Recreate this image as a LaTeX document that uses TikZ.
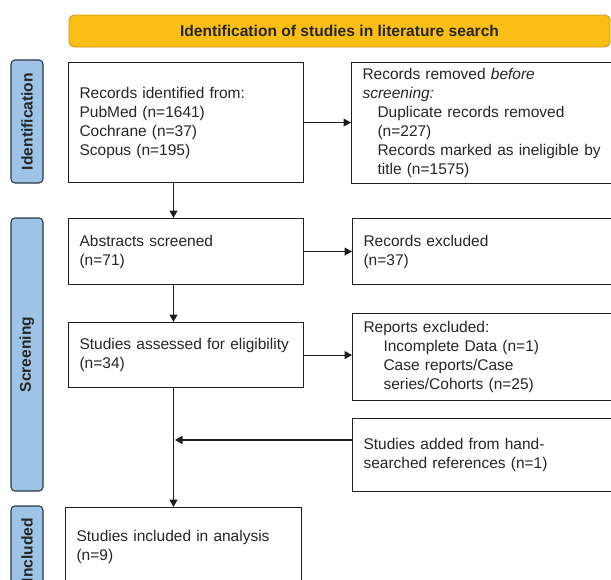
\documentclass[tikz,border=0pt]{standalone}
\usepackage{fontspec}
\setmainfont{Liberation Sans}
\usetikzlibrary{
    arrows.meta,
    calc,
    positioning
}
\definecolor{ink}{RGB}{38,38,38}
\definecolor{edge}{RGB}{28,28,28}
\definecolor{bannerfill}{RGB}{250,190,20}
\definecolor{bannerline}{RGB}{205,150,28}
\definecolor{phasefill}{RGB}{157,195,230}
\definecolor{phaseline}{RGB}{45,55,75}
\tikzset{
    boxfont/.style={font=\fontsize{15.5}{19}\selectfont},
    stage/.style={
        rectangle,
        draw=edge,
        line width=1.1pt,
        fill=white,
        text=ink,
        align=left,
        anchor=north west,
        inner xsep=11pt,
        inner ysep=0pt,
        boxfont
    },
    banner/.style={
        rectangle,
        rounded corners=5pt,
        draw=bannerline,
        line width=0.8pt,
        fill=bannerfill,
        text=ink,
        minimum width=541pt,
        minimum height=32pt,
        font=\bfseries\fontsize{15.6}{19}\selectfont
    },
    phasetab/.style={
        rectangle,
        rounded corners=4pt,
        draw=phaseline,
        line width=1.1pt,
        fill=phasefill,
        text=ink,
        rotate=90,
        minimum height=32pt,
        inner sep=0pt,
        font=\bfseries\fontsize{15.6}{19}\selectfont
    },
    flowarrow/.style={
        -{Triangle[length=7.5pt,width=8pt]},
        draw=edge,
        line width=1.1pt
    }
}

\begin{document}
\begin{tikzpicture}[x=1pt, y=-1pt]

\useasboundingbox (0,0) rectangle (611,579);
\clip (0,0) rectangle (611,579);

\node[banner] (title) at (339.5, 31) {Identification of studies in literature search};

% phase tabs on the left
\node[phasetab, minimum width=123pt] (tabident) at (27, 121.5) {Identification};
\node[phasetab, minimum width=273pt] (tabscreen) at (27, 354.5) {Screening};
\node[phasetab, minimum width=88pt] (tabincl) at (27, 550) {Included};

% main column
\node[stage, text width=213pt, minimum height=120pt] (records) at (68, 62)
    {Records identified from:\\PubMed (n=1641)\\Cochrane (n=37)\\Scopus (n=195)};
\node[stage, text width=213pt, minimum height=66pt] (screened) at (68, 218)
    {Abstracts screened\\(n=71)};
\node[stage, text width=213pt, minimum height=65pt] (assessed) at (68, 322)
    {Studies assessed for eligibility\\(n=34)};
\node[stage, text width=214pt, minimum height=78pt] (included) at (65, 507)
    {Studies included in analysis\\(n=9)};

% side column
\node[stage, text width=258pt, minimum height=121pt] (removed) at (351, 62)
    {Records removed \textit{before}\\\textit{screening:}\\
     \hspace*{15pt}Duplicate records removed\\\hspace*{15pt}(n=227)\\
     \hspace*{15pt}Records marked as ineligible by\\\hspace*{15pt}title (n=1575)};
\node[stage, text width=258pt, minimum height=66pt] (excluded) at (352, 218)
    {Records excluded\\(n=37)};
\node[stage, text width=258pt, minimum height=87pt] (reports) at (352, 313)
    {Reports excluded:\\\hspace*{20pt}Incomplete Data (n=1)\\
     \hspace*{20pt}Case reports/Case\\\hspace*{20pt}series/Cohorts (n=25)};
\node[stage, text width=258pt, minimum height=73pt] (handsearch) at (352, 418)
    {Studies added from hand-\\searched references (n=1)};

\coordinate (spine) at (173.5, 0);
\coordinate (merge) at (175, 440);

\draw[flowarrow] (records.south -| spine) -- (screened.north -| spine);
\draw[flowarrow] (screened.south -| spine) -- (assessed.north -| spine);
\draw[flowarrow] (assessed.south -| spine) -- (included.north -| spine);

\draw[flowarrow] (records.east) -- (records.east -| removed.west);
\draw[flowarrow] (screened.east) -- (screened.east -| excluded.west);
\draw[flowarrow] (assessed.east) -- (assessed.east -| reports.west);
\draw[flowarrow] (handsearch.west |- merge) -- (merge);

\end{tikzpicture}
\end{document}
